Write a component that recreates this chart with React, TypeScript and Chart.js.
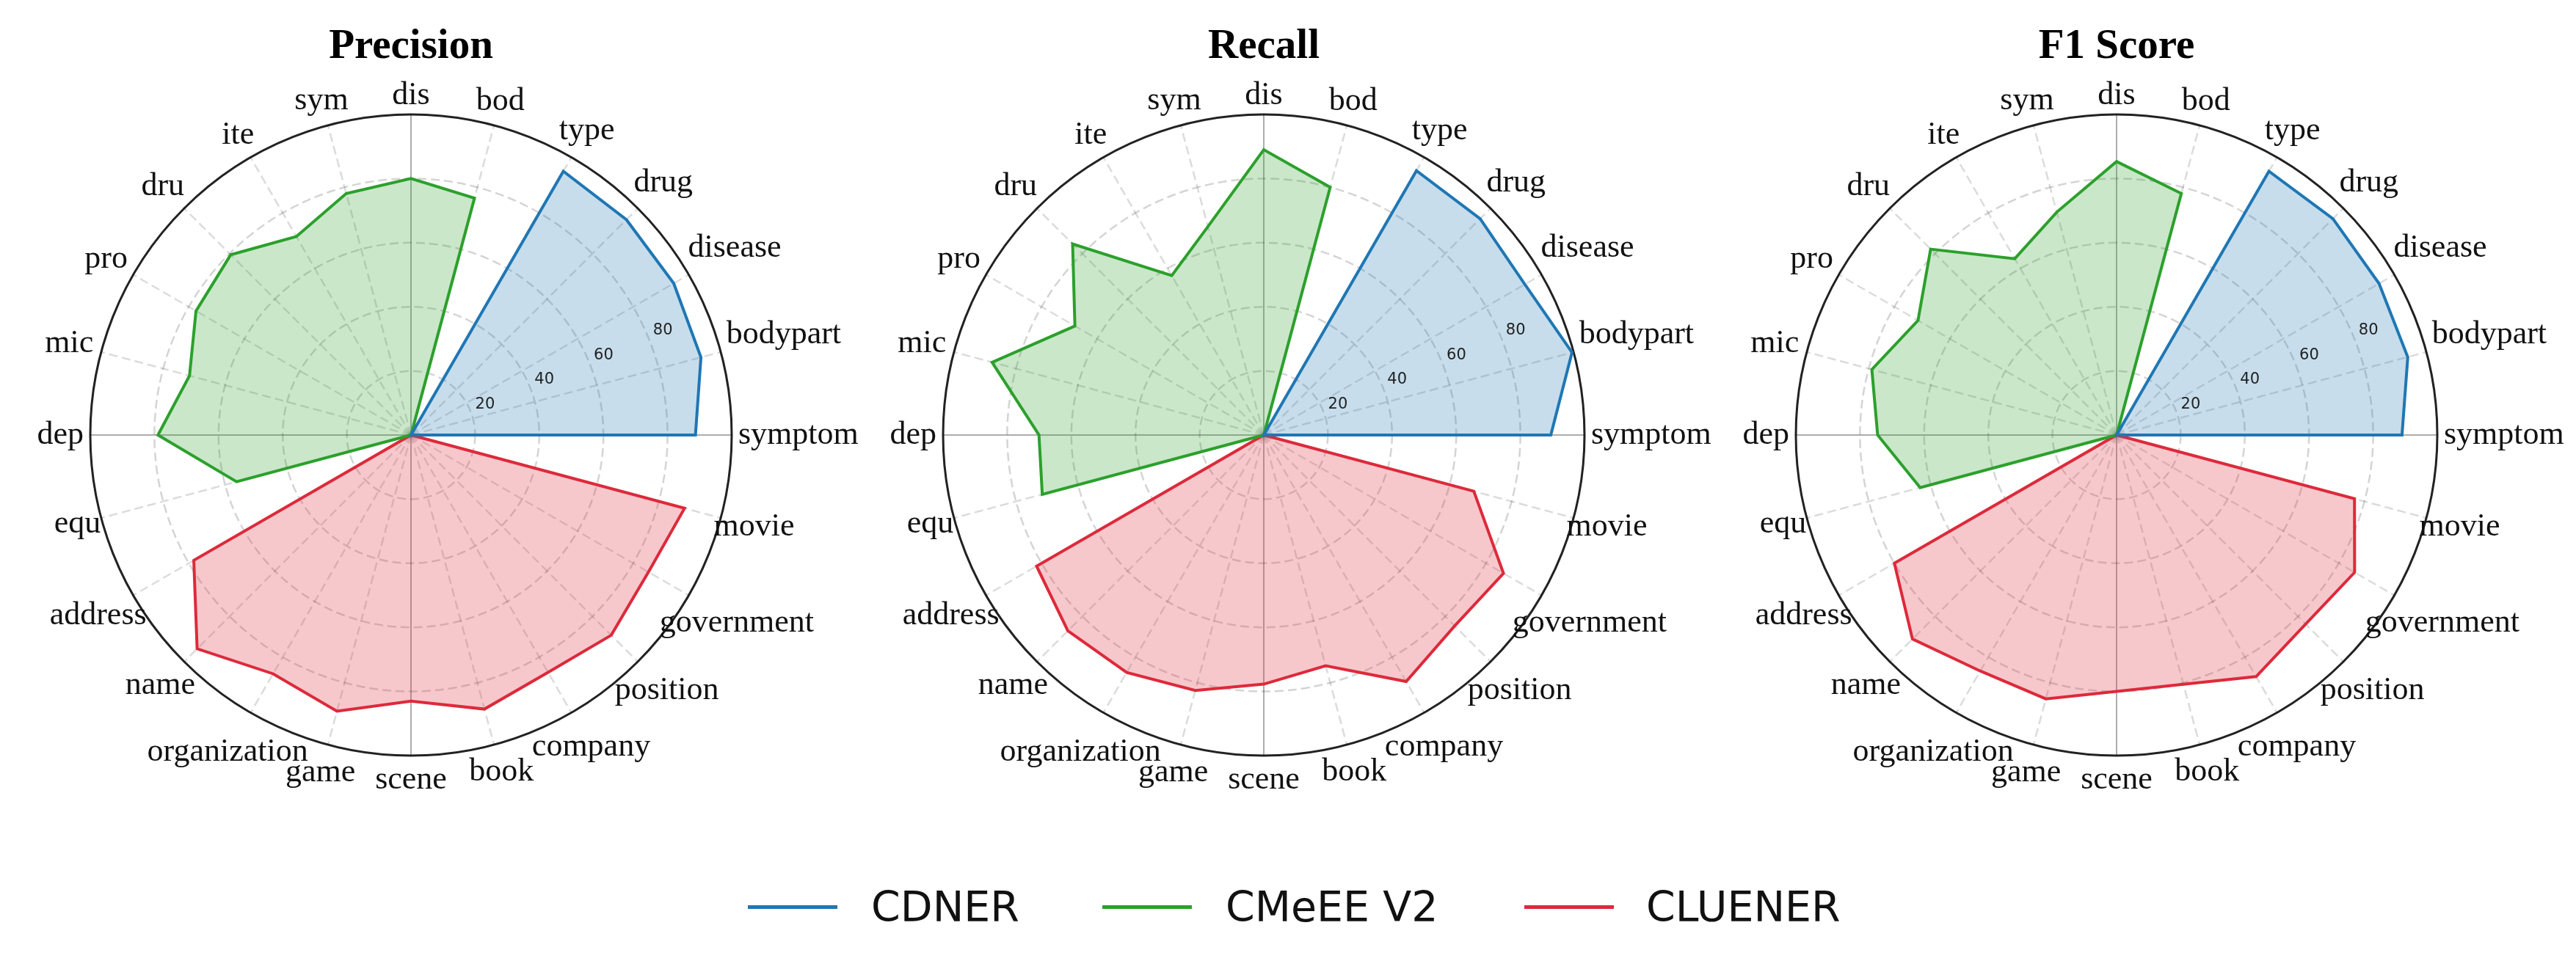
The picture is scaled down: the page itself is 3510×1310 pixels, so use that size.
import React, { useEffect, useRef } from 'react';
import { Chart, registerables } from 'chart.js';

Chart.register(...registerables);

// ---------- data ----------
const categories = [
  'symptom', 'bodypart', 'disease', 'drug', 'type',
  'bod', 'dis', 'sym', 'ite', 'dru', 'pro', 'mic', 'dep', 'equ',
  'address', 'name', 'organization', 'game', 'scene', 'book', 'company', 'position', 'government', 'movie',
];
const cdnerCategories = ['symptom', 'bodypart', 'disease', 'drug', 'type'];
const cmeeeCategories = ['bod', 'dis', 'sym', 'ite', 'dru', 'pro', 'mic', 'dep', 'equ'];
const cluenerCategories = ['address', 'name', 'organization', 'game', 'scene', 'book', 'company', 'position', 'government', 'movie'];

const precisionCDNER = [88.7, 93.6, 94.6, 95.0, 95.0];
const precisionCMeEE = [76.5, 80.0, 78.0, 71.5, 79.5, 77.4, 71.5, 78.9, 56.3];
const precisionCLUENER = [78.2, 94.3, 86.0, 89.2, 83.0, 88.5, 85.5, 88.3, 85.5, 88.3];

const recallCDNER = [89.5, 99.5, 94.0, 95.4, 95.2];
const recallCMeEE = [80.0, 89.0, 67.3, 57.4, 84.3, 68.0, 87.7, 70.1, 71.5];
const recallCLUENER = [81.8, 86.4, 85.5, 82.5, 77.7, 74.5, 88.8, 84.2, 86.3, 67.8];

const f1CDNER = [89.0, 94.0, 94.5, 95.4, 95.0];
const f1CMeEE = [78.0, 85.3, 72.0, 63.5, 82.0, 71.5, 79.0, 74.5, 63.4];
const f1CLUENER = [80.0, 90.0, 85.0, 85.2, 80.0, 80.5, 87.0, 83.4, 85.7, 76.8];

const radialTickValues = [20, 40, 60, 80];
const seriesNames = ['CDNER', 'CMeEE V2', 'CLUENER'];
const panelTitles = ['Precision', 'Recall', 'F1 Score'];

// ---------- styling ----------
const seriesColors = [
  { line: '#1f77b4', fill: 'rgba(31,119,180,0.25)' },
  { line: '#2ca02c', fill: 'rgba(44,160,44,0.25)' },
  { line: '#dd2a3b', fill: 'rgba(221,42,59,0.26)' },
];

const CANVAS_H = 1150;
const CENTER_Y = 593;
const RADIUS = 437;

function buildSeries(cats: string[], vals: number[]): number[] {
  return categories.map((c) => {
    const i = cats.indexOf(c);
    return i >= 0 ? vals[i] : 0;
  });
}

// Chart.js walks clockwise; the reference runs counter-clockwise from east.
function toChartOrder<T>(arr: T[]): T[] {
  return arr.map((_, k) => arr[(arr.length - k) % arr.length]);
}

const decorPlugin = {
  id: 'polarDecor',
  afterDatasetsDraw(chart: any) {
    const s = chart.scales.r;
    const ctx = chart.ctx;
    ctx.save();
    ctx.font = '21px "DejaVu Sans"';
    ctx.fillStyle = '#222';
    ctx.textAlign = 'center';
    ctx.textBaseline = 'middle';
    const a = (-22.5 * Math.PI) / 180;
    radialTickValues.forEach((v) => {
      const r = s.getDistanceFromCenterForValue(v + 5);
      ctx.fillText(String(v), s.xCenter + r * Math.cos(a), s.yCenter + r * Math.sin(a));
    });
    ctx.restore();
  },
  afterDraw(chart: any, _args: any, opts: any) {
    const s = chart.scales.r;
    const ctx = chart.ctx;
    ctx.save();
    const fs = 44;
    ctx.font = `${fs}px "Liberation Serif"`;
    ctx.fillStyle = '#111';
    ctx.textAlign = 'center';
    ctx.textBaseline = 'middle';
    const labels: string[] = chart.data.labels;
    labels.forEach((lab, k) => {
      const ang = s.getIndexAngle(k) - Math.PI / 2;
      const w = ctx.measureText(lab).width;
      const c = Math.abs(Math.cos(ang));
      const sn = Math.abs(Math.sin(ang));
      const below = Math.sin(ang) > 0.05;
      const d = below
        ? s.drawingArea + 9 + 0.6 * (w / 2) * c + 24 * sn
        : s.drawingArea + 9 + (w / 2) * c + 16.5 * sn;
      const p = s.getPointPosition(k, d);
      ctx.fillText(lab, p.x, p.y);
    });
    ctx.font = 'bold 57px "Liberation Serif"';
    ctx.textBaseline = 'alphabetic';
    ctx.fillStyle = '#000';
    ctx.fillText(opts.title, s.xCenter, 79);
    ctx.restore();
  },
};

type PanelProps = {
  title: string;
  series: number[][];
  left: number;
  width: number;
  cx: number;
};

function RadarPanel({ title, series, left, width, cx }: PanelProps) {
  const ref = useRef<HTMLCanvasElement | null>(null);
  useEffect(() => {
    if (!ref.current) return;
    const padLeft = cx - RADIUS - left;
    const padRight = width - (cx + RADIUS - left);
    const padTop = CENTER_Y - RADIUS;
    const padBottom = CANVAS_H - (CENTER_Y + RADIUS);
    const chart = new Chart(ref.current, {
      type: 'radar',
      data: {
        labels: toChartOrder(categories),
        datasets: series.map((vals, i) => ({
          label: seriesNames[i],
          data: toChartOrder(vals),
          borderColor: seriesColors[i].line,
          backgroundColor: seriesColors[i].fill,
          borderWidth: 4,
          fill: 'origin',
          pointRadius: 0,
          pointHoverRadius: 0,
          tension: 0,
        })),
      },
      options: {
        responsive: false,
        devicePixelRatio: 1,
        animation: false,
        layout: { padding: { left: padLeft, right: padRight, top: padTop, bottom: padBottom } },
        plugins: {
          legend: { display: false },
          tooltip: { enabled: false },
          polarDecor: { title },
        } as any,
        scales: {
          r: {
            min: 0,
            max: 100,
            startAngle: 90,
            ticks: { display: false, stepSize: 20 },
            pointLabels: { display: false },
            grid: {
              circular: true,
              color: (c: any) => (c.tick && c.tick.value === 100 ? '#222' : 'rgba(0,0,0,0.17)'),
              lineWidth: (c: any) => (c.tick && c.tick.value === 100 ? 3 : 2.5),
            },
            border: {
              dash: (c: any) => (c.tick && c.tick.value === 100 ? [] : [12, 6]),
            },
            angleLines: {
              color: (c: any) => (c.index % 6 === 0 ? 'rgba(0,0,0,0.32)' : 'rgba(0,0,0,0.14)'),
              lineWidth: (c: any) => (c.index % 6 === 0 ? 2 : 2.5),
              borderDash: (c: any) => (c.index % 6 === 0 ? [] : [12, 6]),
            },
          } as any,
        },
      },
      plugins: [decorPlugin],
    });
    return () => chart.destroy();
  }, [title, series, left, width, cx]);
  return (
    <canvas
      ref={ref}
      width={width}
      height={CANVAS_H}
      style={{ position: 'absolute', left, top: 0, width, height: CANVAS_H }}
    />
  );
}

const panels: PanelProps[] = [
  {
    title: panelTitles[0],
    series: [
      buildSeries(cdnerCategories, precisionCDNER),
      buildSeries(cmeeeCategories, precisionCMeEE),
      buildSeries(cluenerCategories, precisionCLUENER),
    ],
    left: 0,
    width: 1230,
    cx: 560,
  },
  {
    title: panelTitles[1],
    series: [
      buildSeries(cdnerCategories, recallCDNER),
      buildSeries(cmeeeCategories, recallCMeEE),
      buildSeries(cluenerCategories, recallCLUENER),
    ],
    left: 1150,
    width: 1240,
    cx: 1722,
  },
  {
    title: panelTitles[2],
    series: [
      buildSeries(cdnerCategories, f1CDNER),
      buildSeries(cmeeeCategories, f1CMeEE),
      buildSeries(cluenerCategories, f1CLUENER),
    ],
    left: 2310,
    width: 1200,
    cx: 2884,
  },
];

const legendLayout = [
  { lineX: 1019, textX: 1187 },
  { lineX: 1502, textX: 1670 },
  { lineX: 2077, textX: 2243 },
];
const LEGEND_Y = 1236;

export default function App() {
  return (
    <div
      style={{
        position: 'absolute',
        left: 0,
        top: 0,
        width: 3510,
        height: 1310,
        background: '#fff',
        overflow: 'hidden',
      }}
    >
      {panels.map((p) => (
        <RadarPanel key={p.title} {...p} />
      ))}
      {seriesNames.map((name, i) => (
        <React.Fragment key={name}>
          <div
            style={{
              position: 'absolute',
              left: legendLayout[i].lineX,
              top: LEGEND_Y - 2.5,
              width: 122,
              height: 5,
              background: seriesColors[i].line,
            }}
          />
          <div
            style={{
              position: 'absolute',
              left: legendLayout[i].textX,
              top: LEGEND_Y,
              transform: 'translateY(-50%)',
              font: '57px "DejaVu Sans"',
              lineHeight: 1,
              color: '#111',
              whiteSpace: 'nowrap',
            }}
          >
            {name}
          </div>
        </React.Fragment>
      ))}
    </div>
  );
}
